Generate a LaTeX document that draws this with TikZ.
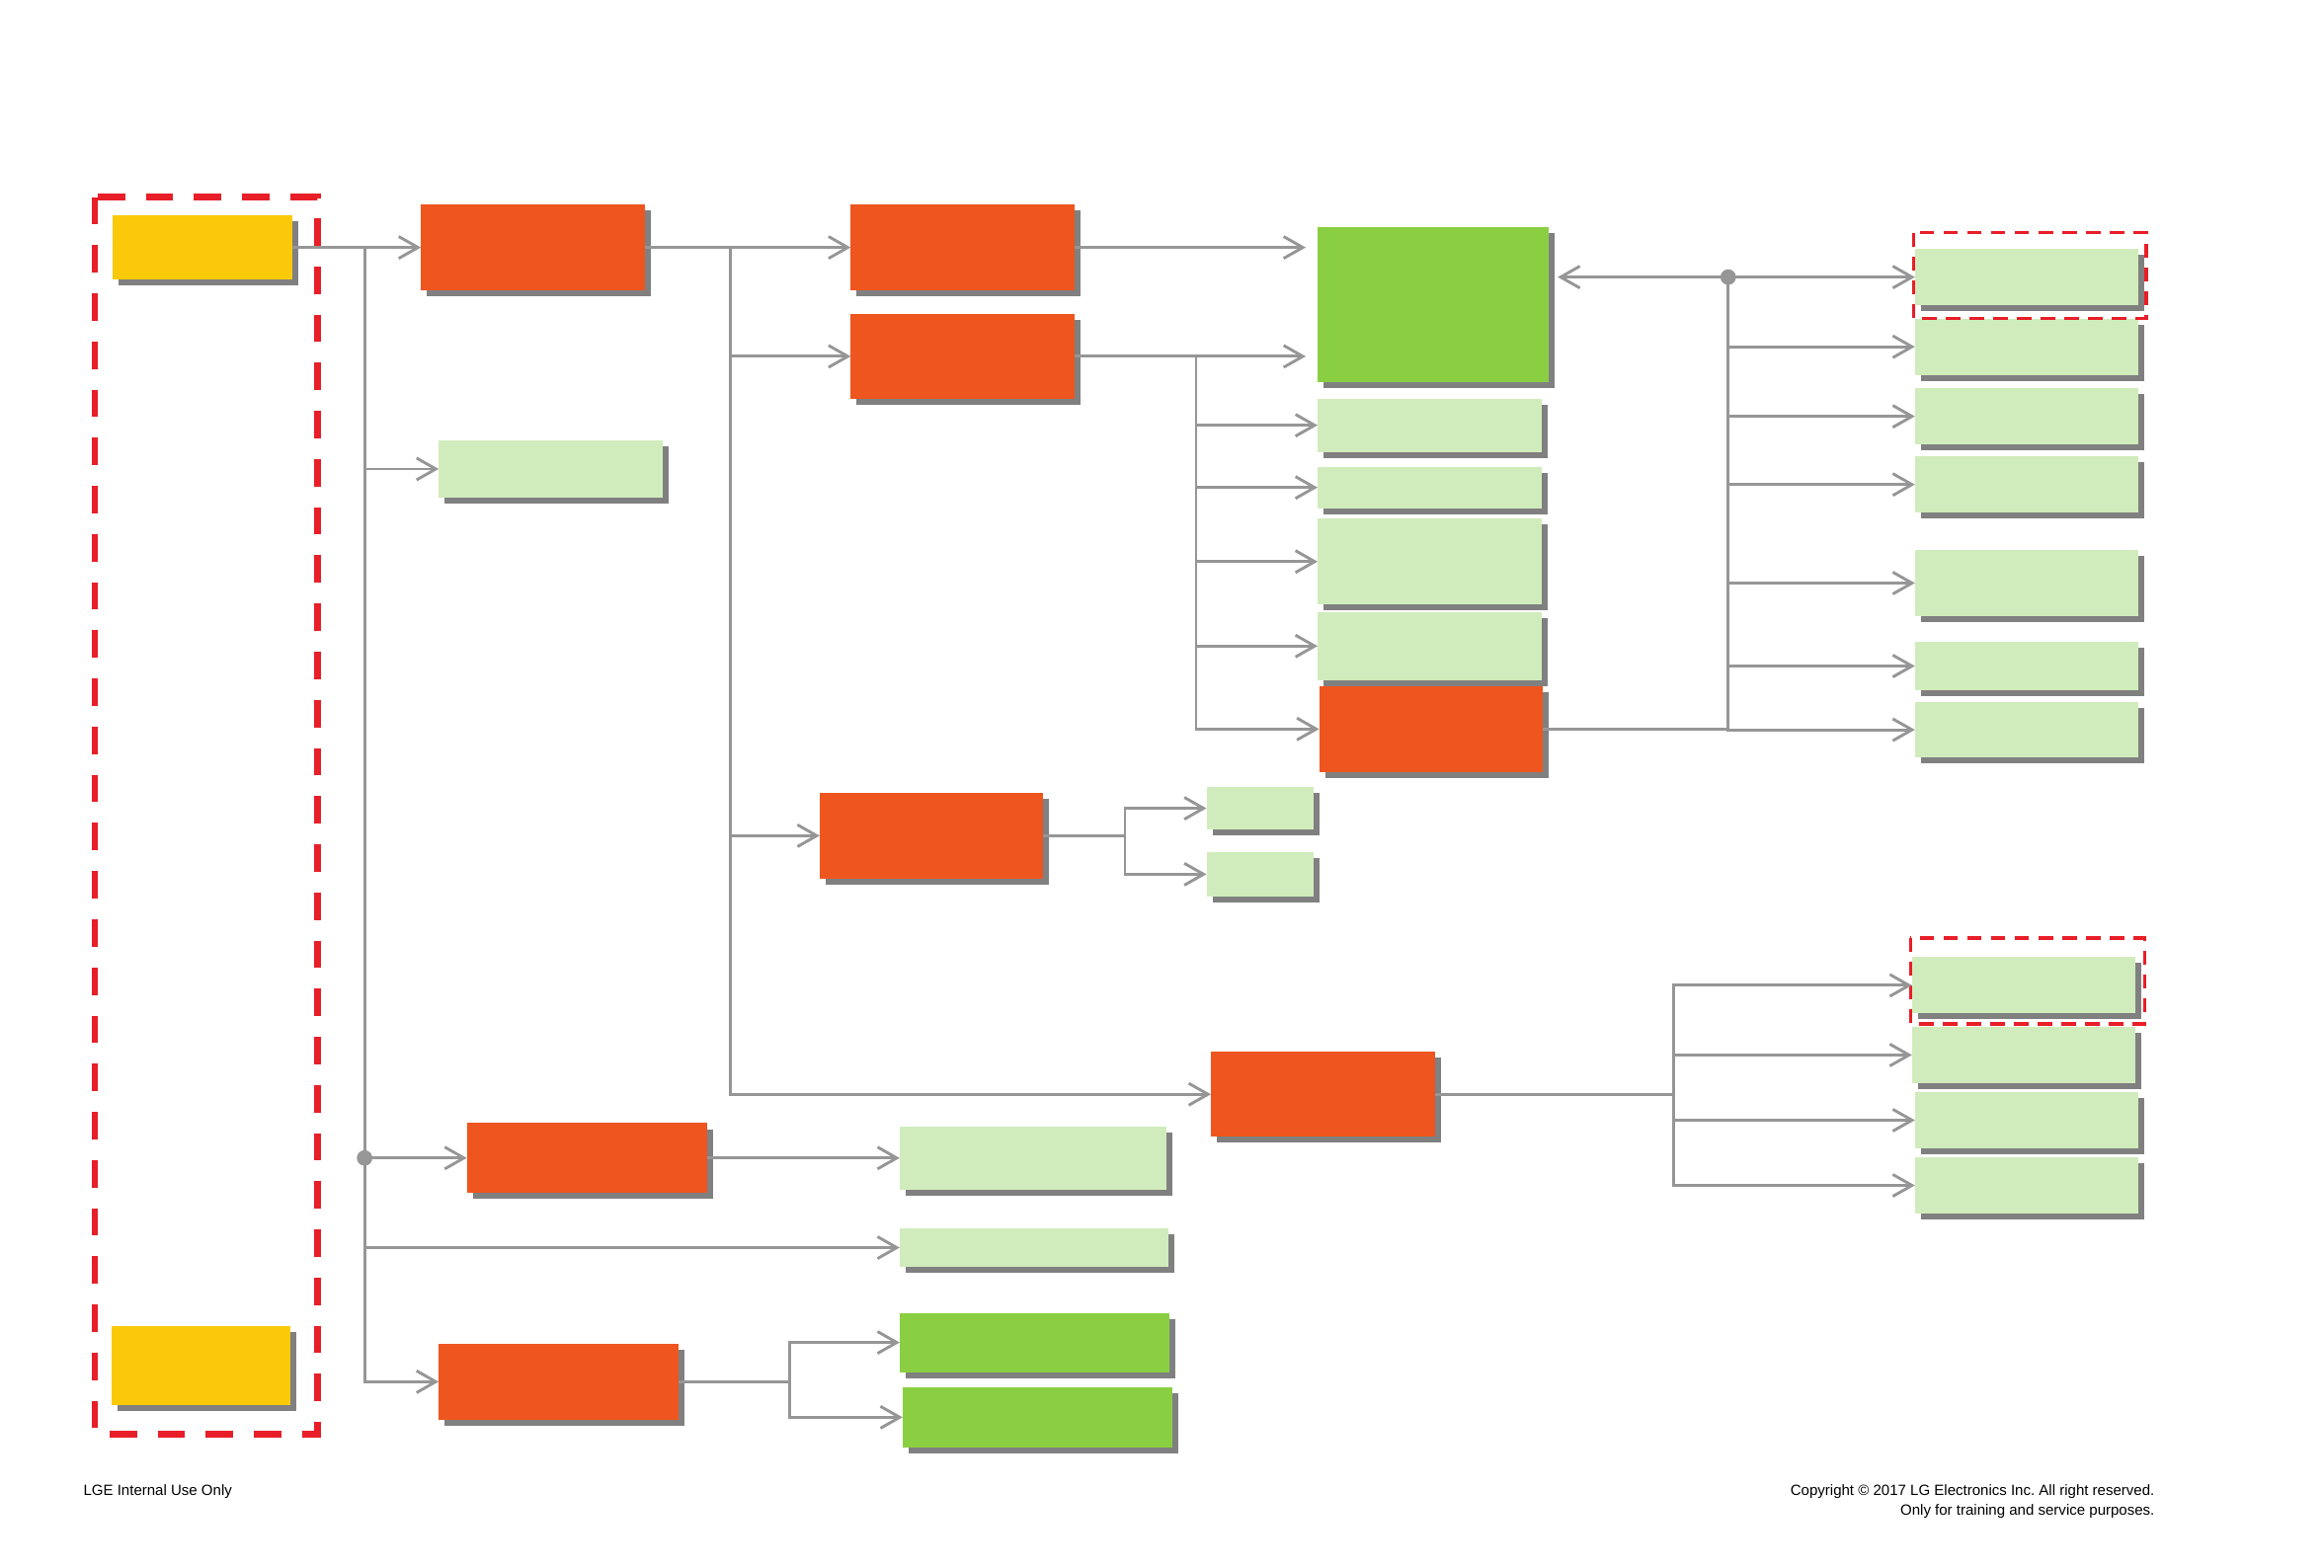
\documentclass[tikz,border=0pt]{standalone}
\usepackage{fontspec}
\setmainfont{Liberation Sans}
\usepackage{tikz}
\usetikzlibrary{arrows.meta, shadows}
\frenchspacing

\definecolor{lgorange}{RGB}{239,85,30}
\definecolor{lgyellow}{RGB}{250,202,10}
\definecolor{lggreen}{RGB}{138,207,66}
\definecolor{lglight}{RGB}{209,236,188}
\definecolor{lgline}{RGB}{150,150,150}
\definecolor{lgshade}{RGB}{128,128,128}
\definecolor{lgred}{RGB}{232,30,40}

\tikzset{
  blk/.style={inner sep=0pt, outer sep=0pt, drop shadow={shadow xshift=0.08cm, shadow yshift=-0.08cm, fill=lgshade, opacity=1}},
  sz/.style 2 args={minimum width=#1*0.02cm, minimum height=#2*0.02cm},
  orangebox/.style={blk, fill=lgorange},
  yellowbox/.style={blk, fill=lgyellow},
  greenbox/.style={blk, fill=lggreen},
  lightbox/.style={blk, fill=lglight},
  link/.style={draw=lgline, line width=1.1pt},
  redframe/.style={draw=lgred, line width=2.6pt, dash pattern=on 0.37cm off 0.28cm},
  redmark/.style={draw=lgred, line width=1.3pt, dash pattern=on 0.19cm off 0.13cm},
  joint/.style={circle, fill=lgline, inner sep=0pt, minimum size=0.21cm},
  footer/.style={font=\fontsize{5.7}{7}\selectfont, inner sep=0pt},
  >={Straight Barb[length=7.4pt,width=8.4pt]}
}

\begin{document}
\begin{tikzpicture}[x=0.02cm, y=-0.02cm]
  \useasboundingbox (0,0) rectangle (1568,1058);

  % Left frame with the two sources
  \draw[redframe] (64,133) rectangle (214,968);
  \node[yellowbox, sz={121}{43}] (y1) at (136.5,167) {};
  \node[yellowbox, sz={121}{53}] (y2) at (135.5,921.5) {};

  % Second column
  \node[orangebox, sz={151}{58}] (a) at (359.5,167) {};
  \node[lightbox, sz={151}{39}] (b) at (371.5,316.5) {};
  \node[orangebox, sz={162}{47}] (m) at (396,781.5) {};
  \node[orangebox, sz={162}{51}] (o) at (377,932.5) {};

  % Third column
  \node[orangebox, sz={151}{58}] (c) at (649.5,167) {};
  \node[orangebox, sz={151}{57}] (d) at (649.5,240.5) {};
  \node[orangebox, sz={151}{58}] (e) at (628.5,564) {};
  \node[lightbox, sz={180}{43}] (n1) at (697,781.5) {};
  \node[lightbox, sz={181}{26}] (n2) at (697.5,842) {};
  \node[greenbox, sz={182}{40}] (p1) at (698,906) {};
  \node[greenbox, sz={182}{41}] (p2) at (700,956.5) {};

  % Fourth column
  \node[greenbox, sz={156}{105}] (g) at (967,205.5) {};
  \node[lightbox, sz={151}{36}] (h1) at (964.5,287) {};
  \node[lightbox, sz={151}{28}] (h2) at (964.5,329) {};
  \node[lightbox, sz={151}{58}] (h3) at (964.5,379) {};
  \node[lightbox, sz={151}{46}] (h4) at (964.5,436) {};
  \node[orangebox, sz={151}{58}] (i) at (965.5,492) {};
  \node[lightbox, sz={72}{29}] (k1) at (850,545.5) {};
  \node[lightbox, sz={72}{30}] (k2) at (850,590) {};
  \node[orangebox, sz={151}{57}] (f) at (892.5,738.5) {};

  % Right column
  \node[lightbox, sz={151}{38}] (j1) at (1367.5,187) {};
  \node[lightbox, sz={151}{38}] (j2) at (1367.5,234) {};
  \node[lightbox, sz={151}{38}] (j3) at (1367.5,281) {};
  \node[lightbox, sz={151}{38}] (j4) at (1367.5,327) {};
  \node[lightbox, sz={151}{45}] (j5) at (1367.5,393.5) {};
  \node[lightbox, sz={151}{33}] (j6) at (1367.5,449.5) {};
  \node[lightbox, sz={151}{37}] (j7) at (1367.5,492.5) {};
  \node[lightbox, sz={151}{38}] (l1) at (1365.5,665) {};
  \node[lightbox, sz={151}{38}] (l2) at (1365.5,712) {};
  \node[lightbox, sz={151}{38}] (l3) at (1367.5,756) {};
  \node[lightbox, sz={151}{38}] (l4) at (1367.5,800) {};
  \draw[redmark] (1291,157) rectangle (1448,215);
  \draw[redmark] (1289,633) rectangle (1447,691);

  % Branch points
  \coordinate (jl) at (246,167);
  \coordinate (ja) at (493,167);
  \coordinate (jd) at (807,240.5);
  \coordinate (je) at (759,564);
  \coordinate (jf) at (1129,738.5);
  \coordinate (jo) at (533,932.5);
  \coordinate (jg) at (1166,187);

  % Connectors
  \draw[link,->] (y1.east) -- (a.west);
  \draw[link,->] (jl) |- (b.west);
  \draw[link,->] (jl) |- (m.west);
  \draw[link,->] (jl) |- (n2.west);
  \draw[link,->] (jl) |- (o.west);
  \draw[link,->] (m.east) -- (n1.west);
  \draw[link] (o.east) -- (jo);
  \draw[link,->] (jo) |- (p1.west);
  \draw[link,->] (jo) |- (p2.west);

  \draw[link,->] (a.east) -- (c.west);
  \draw[link,->] (ja) |- (d.west);
  \draw[link,->] (ja) |- (e.west);
  \draw[link,->] (ja) |- (f.west);

  \draw[link,->,shorten >=0.16cm] (c.east) -- (g.west |- c.east);
  \draw[link] (d.east) -- (jd);
  \draw[link,->,shorten >=0.16cm] (jd) -- (g.west |- jd);
  \draw[link,->] (jd) |- (h1.west);
  \draw[link,->] (jd) |- (h2.west);
  \draw[link,->] (jd) |- (h3.west);
  \draw[link,->] (jd) |- (h4.west);
  \draw[link,->] (jd) |- (i.west);
  \draw[link] (e.east) -- (je);
  \draw[link,->] (je) |- (k1.west);
  \draw[link,->] (je) |- (k2.west);

  \draw[link] (i.east) -- (jg |- i.east);
  \draw[link,->,shorten >=0.12cm] (jg) -- (g.east |- jg);
  \draw[link,->] (jg) -- (j1.west);
  \draw[link,->] (jg) |- (j2.west);
  \draw[link,->] (jg) |- (j3.west);
  \draw[link,->] (jg) |- (j4.west);
  \draw[link,->] (jg) |- (j5.west);
  \draw[link,->] (jg) |- (j6.west);
  \draw[link,->] (jg) |- (j7.west);

  \draw[link] (f.east) -- (jf);
  \draw[link,->] (jf) |- (l1.west);
  \draw[link,->] (jf) |- (l2.west);
  \draw[link,->] (jf) |- (l3.west);
  \draw[link,->] (jf) |- (l4.west);

  \node[joint] (dotl) at (246,781.5) {};
  \node[joint] (dotg) at (jg) {};

  % Footer
  \node[footer, anchor=base west] (internal) at (56,1009.5) {LGE Internal Use Only};
  \node[footer, anchor=base east] (copyright) at (1454,1009.5) {Copyright © 2017 LG Electronics Inc. All right reserved.};
  \node[footer, anchor=base east] (training) at (1454,1022.7) {Only for training and service purposes.};
\end{tikzpicture}
\end{document}
